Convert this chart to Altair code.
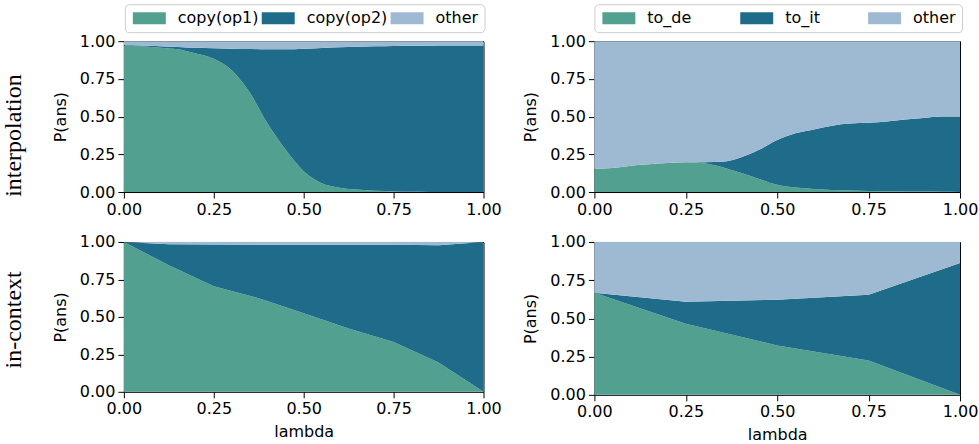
import altair as alt
import pandas as pd

# ---------------- data ----------------
lam_interp = [0.0, 0.05, 0.1, 0.15, 0.2, 0.25, 0.3, 0.35, 0.4, 0.45, 0.5,
              0.55, 0.6, 0.65, 0.7, 0.75, 0.8, 0.85, 0.9, 0.95, 1.0]

# interpolation / copy task
ip_op1 = [0.972, 0.966, 0.957, 0.946, 0.918, 0.884, 0.808, 0.66, 0.452, 0.28, 0.138,
          0.058, 0.029, 0.016, 0.008, 0.004, 0.002, 0.001, 0.0, 0.0, 0.0]
ip_op2 = [0.003, 0.006, 0.010, 0.016, 0.039, 0.069, 0.142, 0.288, 0.494, 0.666, 0.812,
          0.897, 0.931, 0.947, 0.958, 0.964, 0.967, 0.969, 0.971, 0.971, 0.972]
ip_oth = [0.025, 0.028, 0.033, 0.038, 0.043, 0.047, 0.05, 0.052, 0.054, 0.054, 0.05,
          0.045, 0.04, 0.037, 0.034, 0.032, 0.031, 0.03, 0.029, 0.029, 0.028]

# interpolation / translation task
it_de = [0.155, 0.16, 0.175, 0.184, 0.192, 0.197, 0.19, 0.164, 0.127, 0.087, 0.048,
         0.03, 0.02, 0.014, 0.01, 0.007, 0.005, 0.004, 0.003, 0.002, 0.001]
it_it = [0.0, 0.0, 0.0, 0.0, 0.0, 0.0, 0.007, 0.036, 0.102, 0.193, 0.297,
         0.359, 0.395, 0.426, 0.444, 0.452, 0.462, 0.476, 0.487, 0.498, 0.499]
it_oth = [0.845, 0.84, 0.825, 0.816, 0.808, 0.803, 0.803, 0.8, 0.771, 0.72, 0.655,
          0.611, 0.585, 0.56, 0.546, 0.541, 0.533, 0.52, 0.51, 0.5, 0.5]

# in-context / copy task
lam_ctx_copy = [0.0, 0.125, 0.25, 0.375, 0.5, 0.625, 0.75, 0.875, 1.0]
ic_op1 = [1.0, 0.845, 0.705, 0.625, 0.525, 0.422, 0.333, 0.195, 0.0]
ic_op2 = [0.0, 0.14, 0.278, 0.357, 0.457, 0.56, 0.648, 0.783, 1.0]
ic_oth = [0.0, 0.015, 0.017, 0.018, 0.018, 0.018, 0.019, 0.022, 0.0]

# in-context / translation task
lam_ctx_tr = [0.0, 0.25, 0.5, 0.75, 1.0]
ct_de = [0.668, 0.465, 0.323, 0.225, 0.0]
ct_it = [0.0, 0.144, 0.299, 0.43, 0.862]
ct_oth = [0.332, 0.391, 0.378, 0.345, 0.138]

copy_names = ["copy(op1)", "copy(op2)", "other"]
tr_names = ["to_de", "to_it", "other"]
colors = ["#52a08f", "#1f6b8a", "#9ebad3"]
ticks = [0.0, 0.25, 0.5, 0.75, 1.0]


def long_df(lam, names, series):
    rows = []
    for k, (name, vals) in enumerate(zip(names, series)):
        for x, v in zip(lam, vals):
            rows.append({"lam": x, "series": name, "value": v, "k": k})
    return pd.DataFrame(rows)


def make_legend(x, y, colpad):
    return alt.Legend(
        orient="none", legendX=x, legendY=y, direction="horizontal", columns=3,
        gridAlign="none",
        title=None, symbolType="M-1,-1L4.5,-1L4.5,1L-1,1Z", symbolSize=144,
        symbolStrokeWidth=0, symbolOpacity=1, labelOffset=31, columnPadding=colpad,
        padding=6, fillColor="white", strokeColor="#cccccc", cornerRadius=4,
        labelFont="DejaVu Sans", labelFontSize=16, labelColor="black", labelLimit=300,
    )


def panel(df, names, w, h, interp, legend, xtitle, row_title=None, row_dx=0):
    ch = alt.Chart(df).mark_area(interpolate=interp, opacity=1, strokeWidth=0).encode(
        x=alt.X("lam:Q", scale=alt.Scale(domain=[0, 1], nice=False, zero=False),
                axis=alt.Axis(values=ticks, format=".2f", title=xtitle,
                              labelFlush=False, titlePadding=7)),
        y=alt.Y("value:Q", stack="zero", scale=alt.Scale(domain=[0, 1], nice=False),
                axis=alt.Axis(values=ticks, format=".2f", title="P(ans)",
                              labelFlush=False, titlePadding=11)),
        color=alt.Color("series:N", scale=alt.Scale(domain=names, range=colors),
                        legend=legend),
        order=alt.Order("k:Q", sort="ascending"),
    )
    props = dict(width=w, height=h)
    if row_title is not None:
        props["title"] = alt.TitleParams(
            text=row_title, orient="left", anchor="middle", font="Liberation Serif",
            fontSize=24, fontWeight="normal", color="black", offset=26, dx=row_dx)
    return ch.properties(**props)


tl = panel(long_df(lam_interp, copy_names, [ip_op1, ip_op2, ip_oth]), copy_names,
           360, 151, "monotone", make_legend(1, -37, 1), None,
           "interpolation", -19)
tr = panel(long_df(lam_interp, tr_names, [it_de, it_it, it_oth]), tr_names,
           366, 151, "monotone", make_legend(0, -37, 46), None)
bl = panel(long_df(lam_ctx_copy, copy_names, [ic_op1, ic_op2, ic_oth]), copy_names,
           360, 150, "linear", None, "lambda", "in-context", -3)
br = panel(long_df(lam_ctx_tr, tr_names, [ct_de, ct_it, ct_oth]), tr_names,
           366, 153, "linear", None, "lambda")

chart = (
    alt.concat(tl, tr, bl, br, columns=2, spacing={"row": 50, "column": 111},
               bounds="flush", align="each")
    .resolve_scale(color="independent")
    .properties(padding={"left": 1, "top": 3, "right": 0, "bottom": 0})
    .configure_view(stroke="black", strokeWidth=1)
    .configure_axis(
        domain=False, grid=False, tickColor="black", tickSize=6, tickWidth=1,
        labelFont="DejaVu Sans", labelFontSize=16, labelColor="black", labelPadding=3,
        titleFont="DejaVu Sans", titleFontSize=16, titleFontWeight="normal",
        titleColor="black",
    )
)

chart.save("out.html", embed_options={"renderer": "svg", "actions": False})
